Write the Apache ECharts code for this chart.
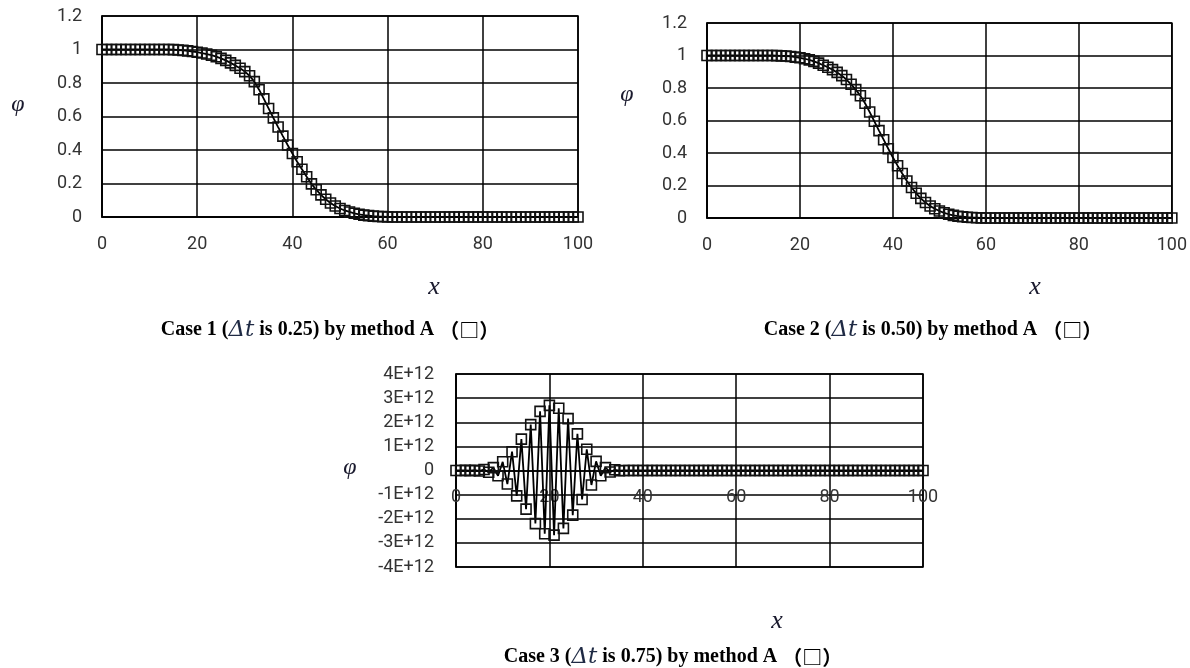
<!DOCTYPE html>
<html>
<head>
<meta charset="utf-8">
<title>Case 1-3 by method A</title>
<script src="https://cdn.jsdelivr.net/npm/echarts@6/dist/echarts.min.js"></script>
<style>
  html, body { margin: 0; padding: 0; background: #fff; }
  #main { width: 1190px; height: 668px; }
</style>
</head>
<body>
<div id="main"></div>
<script>
// x 位置 (0..100)
const xValues = [
  0, 1, 2, 3, 4, 5, 6, 7, 8, 9, 10, 11, 12, 13, 14, 15, 16, 17, 18, 19,
  20, 21, 22, 23, 24, 25, 26, 27, 28, 29, 30, 31, 32, 33, 34, 35, 36, 37, 38, 39,
  40, 41, 42, 43, 44, 45, 46, 47, 48, 49, 50, 51, 52, 53, 54, 55, 56, 57, 58, 59,
  60, 61, 62, 63, 64, 65, 66, 67, 68, 69, 70, 71, 72, 73, 74, 75, 76, 77, 78, 79,
  80, 81, 82, 83, 84, 85, 86, 87, 88, 89, 90, 91, 92, 93, 94, 95, 96, 97, 98, 99, 100
];

// Case 1 (dt = 0.25)
const phiCase1 = [
  1, 1, 1, 1, 1, 1, 1, 1, 1, 1, 1, 1, 1, 1, 1, 0.999, 0.997, 0.995, 0.992, 0.988,
  0.984, 0.979, 0.973, 0.966, 0.957, 0.947, 0.935, 0.92, 0.905, 0.888, 0.868, 0.843, 0.808, 0.76, 0.705, 0.648, 0.592, 0.537, 0.483, 0.43,
  0.379, 0.33, 0.285, 0.24, 0.198, 0.163, 0.132, 0.106, 0.084, 0.066, 0.051, 0.039, 0.03, 0.022, 0.016, 0.011, 0.008, 0.005, 0.003, 0.002,
  0.001, 0, 0, 0, 0, 0, 0, 0, 0, 0, 0, 0, 0, 0, 0, 0, 0, 0, 0, 0,
  0, 0, 0, 0, 0, 0, 0, 0, 0, 0, 0, 0, 0, 0, 0, 0, 0, 0, 0, 0, 0
];

// Case 2 (dt = 0.50)
const phiCase2 = [
  1, 1, 1, 1, 1, 1, 1, 1, 1, 1, 1, 1, 1, 1, 1, 0.999, 0.998, 0.997, 0.994, 0.99,
  0.986, 0.98, 0.973, 0.964, 0.953, 0.94, 0.928, 0.913, 0.896, 0.876, 0.852, 0.823, 0.79, 0.752, 0.706, 0.652, 0.595, 0.538, 0.482, 0.426,
  0.372, 0.322, 0.274, 0.228, 0.188, 0.152, 0.121, 0.095, 0.074, 0.057, 0.043, 0.032, 0.023, 0.016, 0.011, 0.008, 0.005, 0.003, 0.002, 0.001,
  0, 0, 0, 0, 0, 0, 0, 0, 0, 0, 0, 0, 0, 0, 0, 0, 0, 0, 0, 0,
  0, 0, 0, 0, 0, 0, 0, 0, 0, 0, 0, 0, 0, 0, 0, 0, 0, 0, 0, 0, 0
];

// Case 3 (dt = 0.75)
const phiCase3 = [
  0, 0, 0.005e12, -0.005e12, 0.01e12, -0.02e12, 0.04e12, -0.07e12, 0.12e12, -0.22e12,
  0.36e12, -0.56e12, 0.78e12, -1.05e12, 1.3e12, -1.6e12, 1.9e12, -2.2e12, 2.45e12, -2.62e12,
  2.7e12, -2.68e12, 2.58e12, -2.4e12, 2.15e12, -1.85e12, 1.52e12, -1.2e12, 0.88e12, -0.6e12,
  0.38e12, -0.22e12, 0.12e12, -0.06e12, 0.03e12, -0.01e12, 0, 0, 0, 0,
  0, 0, 0, 0, 0, 0, 0, 0, 0, 0, 0, 0, 0, 0, 0, 0, 0, 0, 0, 0,
  0, 0, 0, 0, 0, 0, 0, 0, 0, 0, 0, 0, 0, 0, 0, 0, 0, 0, 0, 0,
  0, 0, 0, 0, 0, 0, 0, 0, 0, 0, 0, 0, 0, 0, 0, 0, 0, 0, 0, 0, 0
];

const xTicks = [0, 20, 40, 60, 80, 100];
const yTicksTop = [0, 0.2, 0.4, 0.6, 0.8, 1, 1.2];
const yTicksCase3 = [-4e12, -3e12, -2e12, -1e12, 0, 1e12, 2e12, 3e12, 4e12];

const labelFont = { fontFamily: 'Roboto', fontSize: 18, color: '#333' };
const gridLine = { show: true, lineStyle: { color: '#000', width: 1.5 } };

function toPoints(ys) {
  return xValues.map((x, i) => [x, ys[i]]);
}

function makeX(gridIndex, offset) {
  return {
    type: 'value',
    gridIndex: gridIndex,
    position: 'bottom',
    offset: offset,
    min: xTicks[0],
    max: xTicks[xTicks.length - 1],
    interval: xTicks[1] - xTicks[0],
    axisLine: { show: true, onZero: false, lineStyle: { color: '#000', width: 1.5 } },
    axisTick: { show: false },
    axisLabel: Object.assign({ margin: 18 }, labelFont),
    splitLine: gridLine
  };
}

function makeY(gridIndex, ticks, formatter, margin) {
  return {
    type: 'value',
    gridIndex: gridIndex,
    min: ticks[0],
    max: ticks[ticks.length - 1],
    interval: ticks[1] - ticks[0],
    axisLine: { show: true, onZero: false, lineStyle: { color: '#000', width: 1.5 } },
    axisTick: { show: false },
    axisLabel: Object.assign({ margin: margin, formatter: formatter }, labelFont),
    splitLine: gridLine
  };
}

function makeSeries(idx, ys) {
  return {
    type: 'line',
    xAxisIndex: idx,
    yAxisIndex: idx,
    data: toPoints(ys),
    symbol: 'rect',
    symbolSize: 10,
    showSymbol: true,
    itemStyle: { color: 'rgba(0,0,0,0)', borderColor: '#111', borderWidth: 1.6 },
    lineStyle: { color: '#000', width: 1.8 },
    emphasis: { disabled: true },
    z: 5
  };
}

function caption(x, y, n, dt) {
  return {
    type: 'text',
    x: x,
    y: y,
    style: {
      text: '{b|Case ' + n + ' (}{i|Δt}{b| is ' + dt + ') by method A }{c|（□）}',
      align: 'center',
      verticalAlign: 'middle',
      rich: {
        b: { fontFamily: 'Liberation Serif', fontWeight: 'bold', fontSize: 20, fill: '#000' },
        i: { fontFamily: 'DejaVu Serif', fontStyle: 'italic', fontSize: 23, fill: '#1f2a44' },
        c: { fontFamily: 'Noto Sans CJK SC', fontWeight: 'bold', fontSize: 20, fill: '#000' }
      }
    }
  };
}

function symbolText(x, y, txt, size) {
  return {
    type: 'text',
    x: x,
    y: y,
    style: {
      text: txt,
      align: 'center',
      verticalAlign: 'middle',
      fontFamily: 'Liberation Serif',
      fontStyle: 'italic',
      fontSize: size,
      fill: '#1a1a2e'
    }
  };
}

const sciFormat = function (v) {
  if (v === 0) return '0';
  return Math.round(v / 1e12) + 'E+12';
};

const chart = echarts.init(document.getElementById('main'), null, { renderer: 'canvas' });

chart.setOption({
  animation: false,
  backgroundColor: '#fff',
  grid: [
    { left: 102, top: 16, width: 476, height: 201, show: true, borderColor: '#000', borderWidth: 1.5 },
    { left: 707, top: 23, width: 466, height: 195, show: true, borderColor: '#000', borderWidth: 1.5 },
    { left: 456, top: 374, width: 467, height: 193, show: true, borderColor: '#000', borderWidth: 1.5 }
  ],
  xAxis: [makeX(0, 0), makeX(1, 0), makeX(2, -96.5)],
  yAxis: [
    makeY(0, yTicksTop, null, 20),
    makeY(1, yTicksTop, null, 20),
    makeY(2, yTicksCase3, sciFormat, 22)
  ],
  series: [
    makeSeries(0, phiCase1),
    makeSeries(1, phiCase2),
    makeSeries(2, phiCase3)
  ],
  graphic: [
    symbolText(18, 105, 'φ', 24),
    symbolText(627, 95, 'φ', 24),
    symbolText(350, 468, 'φ', 24),
    symbolText(434, 287, 'x', 26),
    symbolText(1035, 287, 'x', 26),
    symbolText(777, 621, 'x', 26),
    caption(330, 330, 1, '0.25'),
    caption(933, 330, 2, '0.50'),
    caption(673, 657, 3, '0.75')
  ]
});
</script>
</body>
</html>
